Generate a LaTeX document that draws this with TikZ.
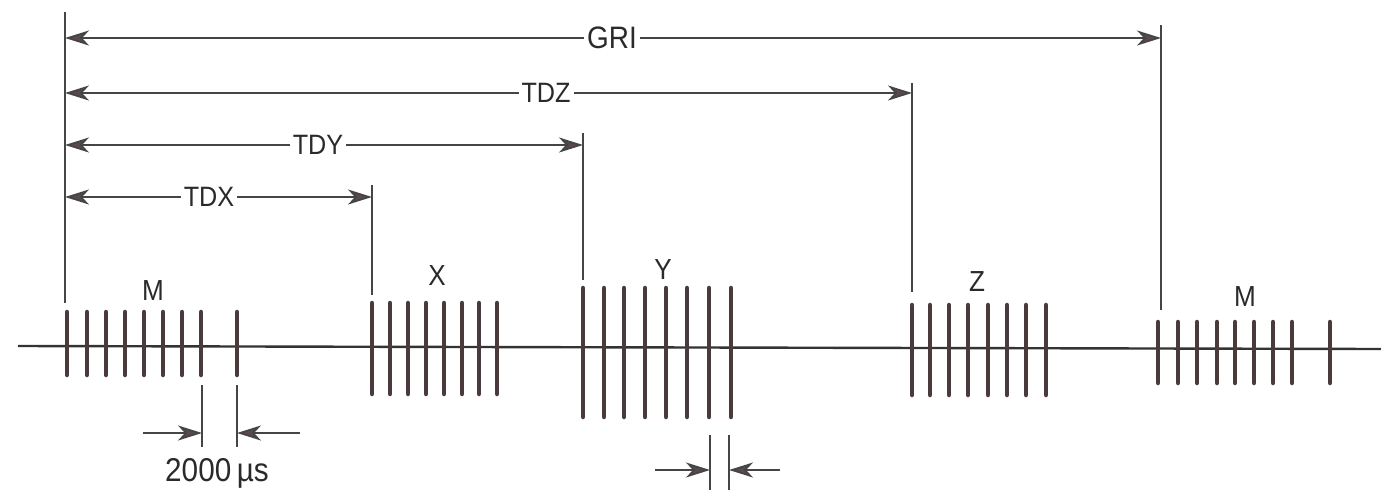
\documentclass[tikz,border=0pt]{standalone}
\usepackage{fontspec}
\setmainfont{Liberation Sans}[FakeStretch=0.9]
\usetikzlibrary{arrows.meta}
\definecolor{pulsecol}{HTML}{4A3A3C}
\definecolor{linecol}{HTML}{454545}
\definecolor{tipcol}{HTML}{5A4A4C}
\definecolor{txtcol}{HTML}{2A2A2A}
\begin{document}
\begin{tikzpicture}[x=1pt,y=-1pt,
  pulse/.style={line width=4.5pt,draw=pulsecol,line cap=round},
  thinline/.style={line width=1.8pt,draw=linecol},
  tip/.tip={Stealth[length=24pt,width=15pt,inset=7pt,fill=tipcol]},
  dimline/.style={thinline,tip-tip},
  onearrow/.style={thinline,-tip},
  lab/.style={fill=white,inner sep=3pt,text=txtcol,font=\fontsize{28}{28}\selectfont},
  grp/.style={text=txtcol,inner sep=0pt,font=\fontsize{29}{29}\selectfont}
]
\useasboundingbox (0,0) rectangle (1381,490);
% axis
\coordinate (ax0) at (18,346);
\coordinate (ax1) at (1381,349);
\draw[line width=2.4pt,draw=black!80] (ax0) -- (ax1);
% pulses
\foreach \x in {67,87,106,125,144,163,182,201,237} \draw[pulse] (\x,312) -- (\x,375);
\foreach \x in {372,390,408,426,444,462,479,497} \draw[pulse] (\x,303) -- (\x,394);
\foreach \x in {583,604,624,645,666,687,709,731} \draw[pulse] (\x,288) -- (\x,417);
\foreach \x in {912,930,949,968,988,1007,1026,1046} \draw[pulse] (\x,305) -- (\x,395);
\foreach \x in {1158,1178,1197,1217,1235,1254,1273,1292,1330} \draw[pulse] (\x,322) -- (\x,383);
% reference verticals
\coordinate (v0t) at (65,12);   \coordinate (v0b) at (65,303);
\coordinate (vXt) at (372,185); \coordinate (vXb) at (372,295);
\coordinate (vYt) at (583,133); \coordinate (vYb) at (583,280);
\coordinate (vZt) at (912,83);  \coordinate (vZb) at (912,292);
\coordinate (vMt) at (1161,25); \coordinate (vMb) at (1161,310);
\draw[thinline] (v0t) -- (v0b);
\draw[thinline] (vXt) -- (vXb);
\draw[thinline] (vYt) -- (vYb);
\draw[thinline] (vZt) -- (vZb);
\draw[thinline] (vMt) -- (vMb);
% dimension lines
\coordinate (g0) at (65,38);  \coordinate (g1) at (1161,38);
\coordinate (z0) at (65,93);  \coordinate (z1) at (912,93);
\coordinate (y0) at (65,145); \coordinate (y1) at (583,145);
\coordinate (x0) at (65,197); \coordinate (x1) at (372,197);
\draw[dimline] (g0) -- (g1);
\draw[dimline] (z0) -- (z1);
\draw[dimline] (y0) -- (y1);
\draw[dimline] (x0) -- (x1);
\node[lab,font=\fontsize{31}{31}\selectfont] (gri) at (612,38) {GRI};
\node[lab] (tdz) at (546,93) {TDZ};
\node[lab] (tdy) at (318,145) {TDY};
\node[lab] (tdx) at (209,197) {TDX};
% group labels
\node[grp] (m1) at (153,291) {M};
\node[grp] (gx) at (437,276) {X};
\node[grp] (gy) at (663,270) {Y};
\node[grp] (gz) at (977,282) {Z};
\node[grp] (m2) at (1245,297) {M};
% 2000 us marker
\coordinate (a1t) at (202,385); \coordinate (a1b) at (202,447);
\coordinate (a2t) at (237,385); \coordinate (a2b) at (237,447);
\draw[thinline] (a1t) -- (a1b);
\draw[thinline] (a2t) -- (a2b);
\coordinate (a1s) at (143,433); \coordinate (a1e) at (202,433);
\coordinate (a2s) at (300,433); \coordinate (a2e) at (237,433);
\draw[onearrow] (a1s) -- (a1e);
\draw[onearrow] (a2s) -- (a2e);
\node[text=txtcol,inner sep=0pt,font=\fontsize{33}{33}\selectfont] (us) at (217,473) {2000\,µs};
% Y group marker
\coordinate (b1t) at (710,435); \coordinate (b1b) at (710,490);
\coordinate (b2t) at (729,435); \coordinate (b2b) at (729,490);
\draw[thinline] (b1t) -- (b1b);
\draw[thinline] (b2t) -- (b2b);
\coordinate (b1s) at (655,470); \coordinate (b1e) at (710,470);
\coordinate (b2s) at (780,470); \coordinate (b2e) at (729,470);
\draw[onearrow] (b1s) -- (b1e);
\draw[onearrow] (b2s) -- (b2e);
\end{tikzpicture}
\end{document}
